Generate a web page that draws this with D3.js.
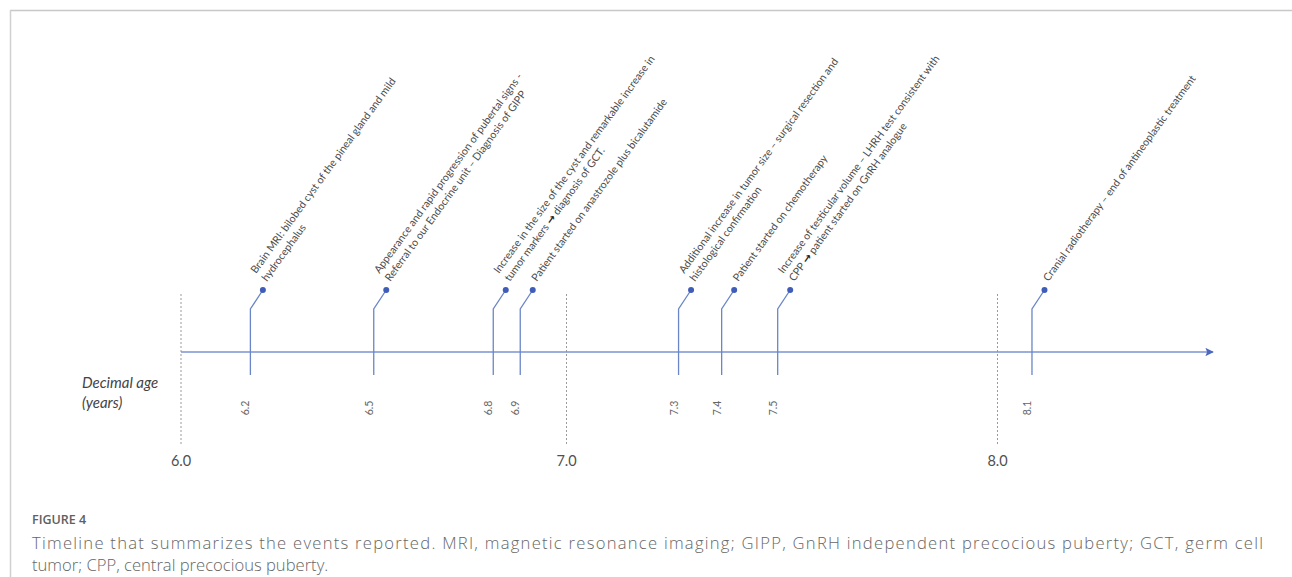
<!DOCTYPE html>
<html>
<head>
<meta charset="utf-8">
<script src="https://cdn.jsdelivr.net/npm/d3@7"></script>
<style>
  html, body { margin: 0; padding: 0; background: #fff; }
  svg { display: block; }
</style>
</head>
<body>
<svg id="chart" width="1292" height="577"></svg>
<script>
// ---------------- DATA ----------------
const eventAges = [6.18, 6.50, 6.81, 6.88, 7.26, 7.36, 7.49, 8.08];
const eventLabels = [
  ["Brain MRI: bilobed cyst of the pineal gland and mild", "hydrocephalus"],
  ["Appearance and rapid progression of pubertal signs -", "Referral to our Endocrine unit \u2013 Diagnosis of GIPP"],
  ["Increase in the size of the cyst and remarkable increase in", "tumor markers \u2192 diagnosis of GCT."],
  ["Patient started on anastrozole plus bicalutamide"],
  ["Additional increase in tumor size \u2013 surgical resection and", "histological confirmation"],
  ["Patient started on chemotherapy"],
  ["Increase of testicular volume \u2013 LHRH test consistent with", "CPP \u2192 patient started on GnRH analogue"],
  ["Cranial radiotherapy \u2013 end of antineoplastic treatment"]
];
const yearTicks = [6.0, 7.0, 8.0];
const axisRange = [6.0, 8.5];
const axisTitle = ["Decimal age", "(years)"];
const figureLabel = "FIGURE 4";
const captionLines = [
  "Timeline that summarizes the events reported. MRI, magnetic resonance imaging; GIPP, GnRH independent precocious puberty; GCT, germ cell",
  "tumor; CPP, central precocious puberty."
];

// ---------------- LAYOUT ----------------
const svg = d3.select("#chart");
const W = 1292, H = 577;
const axisY = 352;
const blue = "#6a86c8", dotBlue = "#3f5cb8";
const fontChart = "Lato, 'Open Sans', sans-serif";

// piecewise linear scale (the original timeline is not strictly to scale between years)
const x = d3.scaleLinear().domain(yearTicks).range([181, 566.5, 997.5]);
const fmt = d3.format(".1f");

// frame
svg.append("line").attr("x1", 10).attr("x2", W).attr("y1", 10.5).attr("y2", 10.5)
  .attr("stroke", "#c8c8c8").attr("stroke-width", 1.5);
svg.append("line").attr("x1", 10.5).attr("x2", 10.5).attr("y1", 10).attr("y2", H)
  .attr("stroke", "#d0d0d0").attr("stroke-width", 1.5);

// dashed year lines
const yearG = svg.append("g");
yearG.selectAll("line").data(yearTicks).join("line")
  .attr("x1", d => x(d)).attr("x2", d => x(d))
  .attr("y1", 294).attr("y2", 446)
  .attr("stroke", "#9a9a9a").attr("stroke-width", 1)
  .attr("stroke-dasharray", "2,2");
yearG.selectAll("text").data(yearTicks).join("text")
  .attr("x", d => x(d)).attr("y", 466)
  .attr("text-anchor", "middle")
  .attr("font-family", fontChart).attr("font-size", 14.5)
  .attr("fill", "#505050")
  .text(d => fmt(d));

// main axis with arrow
const defs = svg.append("defs");
defs.append("marker").attr("id", "arrow")
  .attr("viewBox", "0 0 10 10").attr("refX", 9).attr("refY", 5)
  .attr("markerWidth", 6).attr("markerHeight", 6)
  .attr("markerUnits", "strokeWidth")
  .attr("orient", "auto")
  .append("path").attr("d", "M0,0 L10,5 L0,10 L2,5 Z").attr("fill", "#4a68c0");
svg.append("line")
  .attr("x1", x(axisRange[0])).attr("x2", x(axisRange[1]))
  .attr("y1", axisY).attr("y2", axisY)
  .attr("stroke", "#7b93d2").attr("stroke-width", 1.4)
  .attr("marker-end", "url(#arrow)");

// axis title
svg.append("g").selectAll("text").data(axisTitle).join("text")
  .attr("x", 82).attr("y", (d, i) => 388 + i * 20)
  .attr("font-family", fontChart).attr("font-style", "italic")
  .attr("font-size", 15).attr("fill", "#444")
  .text(d => d);

// events
const events = eventAges.map((a, i) => ({ age: a, lines: eventLabels[i] }));
const elbowY = 309, dotY = 290, stemBottom = 375, dx = 12.5;

const evG = svg.append("g").selectAll("g").data(events).join("g");
evG.append("path")
  .attr("d", d => {
    const sx = x(d.age);
    return `M${sx},${stemBottom} L${sx},${elbowY} L${sx + dx},${dotY}`;
  })
  .attr("fill", "none").attr("stroke", blue).attr("stroke-width", 1.3);
evG.append("circle")
  .attr("cx", d => x(d.age) + dx).attr("cy", dotY).attr("r", 3)
  .attr("fill", dotBlue);

// vertical value labels
evG.append("text")
  .attr("transform", d => `translate(${x(d.age) - 1},${408}) rotate(-90)`)
  .attr("text-anchor", "middle")
  .attr("font-family", fontChart).attr("font-size", 10.5)
  .attr("fill", "#666")
  .text(d => fmt(d.age));

// rotated event descriptions
const angle = -54;
const rad = angle * Math.PI / 180;
const lineH = 13.4;
const px = -Math.sin(rad), py = Math.cos(rad);
evG.each(function(d) {
  const g = d3.select(this);
  const n = d.lines.length;
  const bx = x(d.age) + dx + 4, by = dotY - 8;
  d.lines.forEach((ln, i) => {
    const k = n - 1 - i;
    const tx = bx - px * lineH * k, ty = by - py * lineH * k;
    const t = g.append("text")
      .attr("transform", `translate(${tx},${ty}) rotate(${angle})`)
      .attr("font-family", fontChart).attr("font-size", 10.6)
      .attr("fill", "#4a4a4a");
    const parts = ln.split("\u2192");
    parts.forEach((p, j) => {
      t.append("tspan").text(p);
      if (j < parts.length - 1) {
        t.append("tspan").text("\u2192").attr("font-weight", "bold").attr("fill", "#222")
          .attr("font-family", "'DejaVu Sans', sans-serif");
      }
    });
  });
});

// caption
svg.append("text").attr("x", 32).attr("y", 524)
  .attr("font-family", "'Open Sans', sans-serif").attr("font-size", 12.5)
  .attr("font-weight", 600).attr("fill", "#606060")
  .text(figureLabel);
svg.append("g").selectAll("text").data(captionLines).join("text")
  .attr("x", 32).attr("y", (d, i) => 549 + i * 22)
  .attr("font-family", "'Open Sans', sans-serif").attr("font-size", 16.6)
  .attr("font-weight", 300)
  .attr("fill", "#666")
  .text(d => d)
  .each(function(d, i) {
    if (i === 0) {
      const natural = this.getComputedTextLength();
      if (Math.abs(natural - 1231) > 4) {
        d3.select(this).attr("textLength", 1231).attr("lengthAdjust", "spacing");
      }
    }
  });
</script>
</body>
</html>
